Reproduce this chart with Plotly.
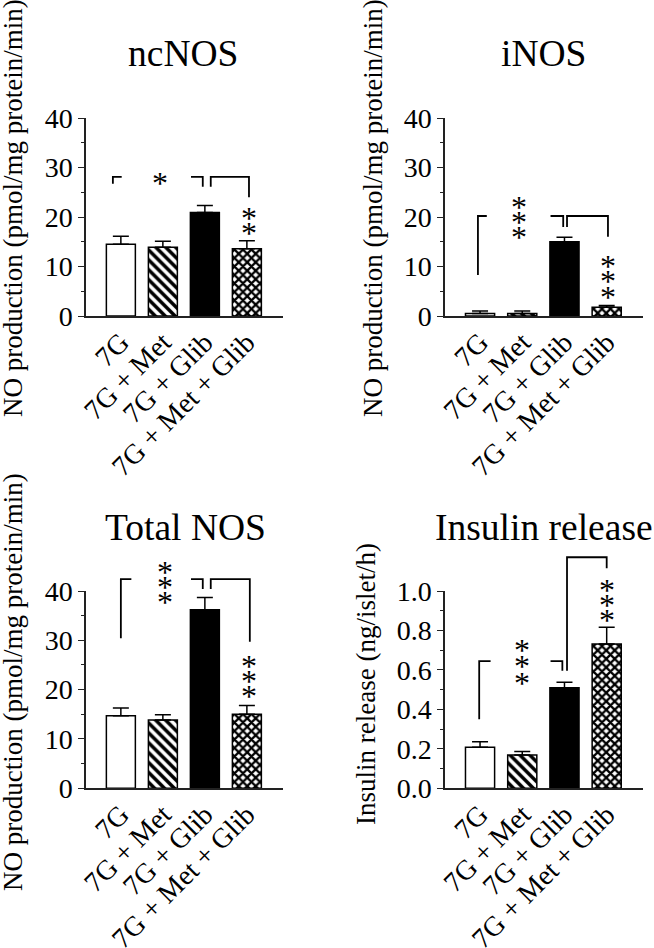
import plotly.graph_objects as go

# ---------------- data ----------------
groups = ["7G", "7G + Met", "7G + Glib", "7G + Met + Glib"]
group_pos = [0, 1, 2, 3]

ncnos_mean = [14.5, 13.9, 20.9, 13.6]
ncnos_sem = [1.6, 1.2, 1.4, 1.6]

inos_mean = [0.5, 0.5, 15.0, 1.75]
inos_sem = [0.5, 0.5, 0.9, 0.35]

total_mean = [14.7, 13.85, 36.2, 15.0]
total_sem = [1.6, 1.05, 2.5, 1.8]

insulin_mean = [0.208, 0.169, 0.51, 0.731]
insulin_sem = [0.028, 0.017, 0.027, 0.085]

# significance brackets: (x points in group units, y points in data units)
ncnos_brackets = [
    ([-0.19, -0.19, 0.02], [26.7, 28.1, 28.1]),
    ([1.67, 1.95, 1.95], [28.1, 28.1, 26.1]),
    ([2.14, 2.14, 3.05, 3.05], [26.1, 28.1, 28.1, 24.0]),
]
ncnos_stars = [(0.93, [27.8]), (3.05, [20.7, 17.7])]

inos_brackets = [
    ([-0.05, -0.05, 0.16], [8.3, 20.2, 20.2]),
    ([1.67, 1.97, 1.97], [20.2, 20.2, 18.0]),
    ([2.06, 2.06, 3.03, 3.03], [18.0, 20.2, 20.2, 16.0]),
]
inos_stars = [(0.92, [22.9, 19.9, 16.9]), (3.03, [11.0, 7.9, 4.7])]

total_brackets = [
    ([0.0, 0.0, 0.25], [30.4, 42.4, 42.4]),
    ([1.67, 1.95, 1.95], [42.4, 42.4, 40.4]),
    ([2.14, 2.14, 3.07, 3.07], [40.4, 42.4, 42.4, 29.7]),
]
total_stars = [(1.06, [44.7, 41.7, 38.6]), (3.05, [25.7, 22.6, 19.6])]

insulin_brackets = [
    ([-0.02, -0.02, 0.25], [0.35, 0.645, 0.645]),
    ([1.67, 1.95, 1.95], [0.645, 0.645, 0.596]),
    ([2.06, 2.06, 3.0, 3.0], [0.596, 1.171, 1.171, 1.115]),
]
insulin_stars = [(0.99, [0.726, 0.642, 0.557]), (3.01, [1.03, 0.954, 0.878])]

titles = ["ncNOS", "iNOS", "Total NOS", "Insulin release"]
ytitle_nos = "NO production (pmol/mg protein/min)"
ytitle_ins = "Insulin release (ng/islet/h)"

# ---------------- layout helpers ----------------
W, H = 654, 948
FONT = "Liberation Serif, Times New Roman, serif"


def xdom(l, r):
    return [l / W, r / W]


def ydom(top, bottom):
    return [1 - bottom / H, 1 - top / H]


panels = [
    dict(mean=ncnos_mean, sem=ncnos_sem, br=ncnos_brackets, st=ncnos_stars,
         xpx=(86, 283), ypx=(118, 316), ymax=40, ext=40, dtick=10, minor=5, fmt="d"),
    dict(mean=inos_mean, sem=inos_sem, br=inos_brackets, st=inos_stars,
         xpx=(445, 643), ypx=(118, 316), ymax=40, ext=40, dtick=10, minor=5, fmt="d"),
    dict(mean=total_mean, sem=total_sem, br=total_brackets, st=total_stars,
         xpx=(86, 283), ypx=(591, 788.3), ymax=40, ext=48, dtick=10, minor=5, fmt="d"),
    dict(mean=insulin_mean, sem=insulin_sem, br=insulin_brackets, st=insulin_stars,
         xpx=(445, 643), ypx=(591, 788.3), ymax=1.0, ext=1.25, dtick=0.2, minor=0.1, fmt=".1f"),
]

# bar styles (per group)
bar_fill = ["white", "white", "black", "white"]
bar_shape = ["", "\\", "", "x"]
bar_psize = [8, 7, 8, 6]
bar_solid = [0.3, 0.5, 0.3, 0.62]

fig = go.Figure()
layout = dict(
    width=W, height=H, margin=dict(l=0, r=0, t=0, b=0, autoexpand=False),
    paper_bgcolor="white", plot_bgcolor="rgba(0,0,0,0)",
    showlegend=False, font=dict(family=FONT, color="black"),
    barmode="overlay",
)
annotations = []

for i, p in enumerate(panels):
    n = i + 1
    xa = "x" if n == 1 else f"x{n}"
    ya = "y" if n == 1 else f"y{n}"
    ha = f"y{n + 4}"  # hidden axis (same scale, taller domain) for brackets / stars
    xkey = "xaxis" if n == 1 else f"xaxis{n}"
    ykey = "yaxis" if n == 1 else f"yaxis{n}"
    hkey = f"yaxis{n + 4}"

    top, bot = p["ypx"]
    ext_top = bot - (bot - top) * p["ext"] / p["ymax"]

    layout[xkey] = dict(
        domain=xdom(*p["xpx"]), anchor=ya, range=[-0.83, 3.86],
        tickvals=group_pos, ticktext=groups, tickangle=-45,
        ticks="", showline=True, linecolor="#222", linewidth=1.5,
        showgrid=False, zeroline=False, automargin=False,
        ticklabelstandoff=-3,
        tickfont=dict(family=FONT, size=28, color="black"),
    )
    layout[ykey] = dict(
        domain=ydom(top, bot), anchor=xa, range=[0, p["ymax"]],
        dtick=p["dtick"], tick0=0, tickformat=p["fmt"],
        ticks="outside", ticklen=6, tickwidth=1.3, tickcolor="#222",
        minor=dict(dtick=p["minor"], ticks="outside", ticklen=3, tickwidth=1.2, tickcolor="#222"),
        showline=True, linecolor="#222", linewidth=1.5,
        showgrid=False, zeroline=False, automargin=False,
        tickfont=dict(family=FONT, size=28, color="black"),
    )
    layout[hkey] = dict(
        domain=ydom(ext_top, bot), anchor=xa, range=[0, p["ext"]],
        visible=False, showgrid=False, zeroline=False,
    )

    for g in range(4):
        fig.add_trace(go.Bar(
            x=[group_pos[g]], y=[p["mean"][g]], width=0.69, xaxis=xa, yaxis=ya,
            marker=dict(
                color=bar_fill[g],
                line=dict(color="black", width=1.5),
                pattern=dict(shape=bar_shape[g], fgcolor="black", bgcolor=bar_fill[g],
                             size=bar_psize[g], solidity=bar_solid[g], fillmode="replace"),
            ),
            error_y=dict(type="data", symmetric=False, array=[p["sem"][g]],
                         arrayminus=[0], color="black", thickness=1.5, width=8),
        ))

    for bx, by in p["br"]:
        fig.add_trace(go.Scatter(
            x=bx, y=by, mode="lines", xaxis=xa, yaxis=ha,
            line=dict(color="black", width=1.8), hoverinfo="skip",
        ))
    for sx, sys_ in p["st"]:
        for sy in sys_:
            annotations.append(dict(
                x=sx, y=sy, xref=xa, yref=ha, text="*", showarrow=False,
                xanchor="center", yanchor="middle", yshift=-4.5,
                font=dict(family=FONT, size=32, color="black"),
            ))

# panel titles
title_pos = [(183, 54), (543, 54), (185, 527), (544, 527)]
for t, (tx, ty) in zip(titles, title_pos):
    annotations.append(dict(
        x=tx / W, y=1 - ty / H, xref="paper", yref="paper", text=t,
        showarrow=False, xanchor="center", yanchor="middle",
        font=dict(family=FONT, size=37.5, color="black"),
    ))

# y-axis titles
ytitle_pos = [(ytitle_nos, 13, 208), (ytitle_nos, 373, 208),
              (ytitle_nos, 13, 682), (ytitle_ins, 366, 684)]
for t, tx, ty in ytitle_pos:
    annotations.append(dict(
        x=tx / W, y=1 - ty / H, xref="paper", yref="paper", text=t,
        showarrow=False, xanchor="center", yanchor="middle", textangle=-90,
        font=dict(family=FONT, size=27, color="black"),
    ))

layout["annotations"] = annotations
fig.update_layout(**layout)
fig.write_html("out.html", config={"displayModeBar": False},
               post_script="document.body.style.margin='0';")
